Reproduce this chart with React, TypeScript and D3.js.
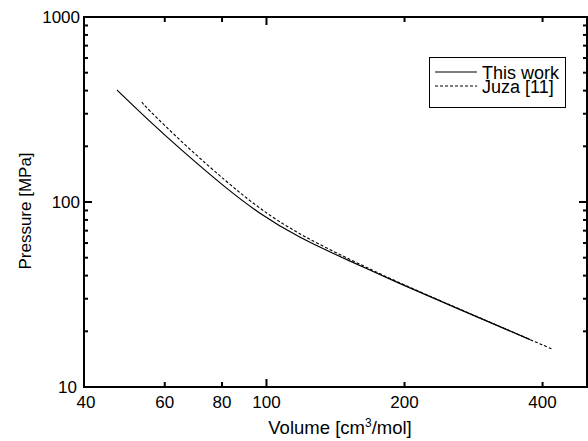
import React from "react";
import * as d3 from "d3";

const thisWorkV = [47.2, 55.7, 66.4, 81.2, 96.8, 118.4, 152.2, 195.6, 264.4, 375.8];
const thisWorkP = [403, 272.8, 184.2, 120.7, 87.0, 64.5, 47.9, 36.2, 26.2, 18.04];
const juzaV = [53.5, 55.7, 66.4, 81.2, 96.8, 118.4, 152.2, 195.6, 264.4, 375.8, 421.8];
const juzaP = [347, 310.7, 204.3, 131.3, 92.6, 67.2, 48.9, 36.5, 26.3, 18.04, 15.95];
const xTickValues = [40, 60, 80, 100, 200, 400];
const yLabelValues = [10, 100, 1000];
const legendLabels = ["This work", "Juza [11]"];

const W = 588, H = 441;
const M = { left: 84, right: 1, top: 17, bottom: 54 };
const FONT = "'Liberation Sans', Arial, Helvetica, sans-serif";

export default function App() {
  const x = d3.scaleLog().domain([40, 500]).range([M.left, W - M.right]);
  const y = d3.scaleLog().domain([10, 1000]).range([H - M.bottom, M.top]);
  const x0 = x.range()[0], x1 = x.range()[1];
  const y0 = y.range()[0], y1 = y.range()[1];
  const line = d3
    .line<[number, number]>()
    .x((d) => x(d[0]))
    .y((d) => y(d[1]))
    .curve(d3.curveNatural);
  const solid = line(thisWorkV.map((v, i) => [v, thisWorkP[i]]));
  const dashed = line(juzaV.map((v, i) => [v, juzaP[i]]));
  const yTicks = y.ticks();
  const isMajorY = (v: number) => yLabelValues.includes(v);
  const isMajorX = (v: number) => v === 100;

  const lg = { x: 429.5, y: 57.5, w: 136, h: 50 };

  return (
    <svg
      width={W}
      height={H}
      style={{ position: "absolute", left: 0, top: 0, background: "#fff" }}
      fontFamily={FONT}
    >
      <rect x={0} y={0} width={W} height={H} fill="#fff" />
      {/* curves */}
      <path d={solid || ""} fill="none" stroke="#000" strokeWidth={1.2} />
      <path d={dashed || ""} fill="none" stroke="#000" strokeWidth={1.1} strokeDasharray="3,2" />

      {/* frame */}
      <rect x={x0} y={y1} width={x1 - x0} height={y0 - y1} fill="none" stroke="#000" strokeWidth={2} />

      {/* y ticks */}
      {yTicks.map((v) => {
        const len = isMajorY(v) ? 8 : 4;
        const yy = y(v);
        return (
          <g key={"yt" + v}>
            <line x1={x0} x2={x0 + len} y1={yy} y2={yy} stroke="#000" strokeWidth={2} />
            <line x1={x1} x2={x1 - len} y1={yy} y2={yy} stroke="#000" strokeWidth={2} />
          </g>
        );
      })}
      {yLabelValues.map((v) => (
        <text
          key={"yl" + v}
          x={x0 - 4 - (v === 10 ? 3 : 0)}
          y={y(v)}
          dy="0.35em"
          textAnchor="end"
          fontSize={17}
          fill="#000"
        >
          {v}
        </text>
      ))}

      {/* x ticks */}
      {xTickValues.map((v) => {
        const len = isMajorX(v) ? 8 : 5;
        const xx = x(v);
        return (
          <g key={"xt" + v}>
            <line x1={xx} x2={xx} y1={y0} y2={y0 - len} stroke="#000" strokeWidth={2} />
            <line x1={xx} x2={xx} y1={y1} y2={y1 + len} stroke="#000" strokeWidth={2} />
            <text x={xx + (v === 40 ? 2 : 0)} y={y0 + 21} textAnchor="middle" fontSize={17} fill="#000">
              {v}
            </text>
          </g>
        );
      })}

      {/* axis titles */}
      <text x={340} y={434} textAnchor="middle" fontSize={18.5} fill="#000">
        Volume [cm<tspan dy={-7} fontSize={12}>3</tspan>
        <tspan dy={7}>/mol]</tspan>
      </text>
      <text
        transform={`translate(31,211) rotate(-90)`}
        textAnchor="middle"
        fontSize={17}
        fill="#000"
      >
        Pressure [MPa]
      </text>

      {/* legend */}
      <rect x={lg.x} y={lg.y} width={lg.w} height={lg.h} fill="#fff" stroke="#000" strokeWidth={1} />
      <line x1={435} x2={477} y1={72} y2={72} stroke="#000" strokeWidth={1.2} />
      <line x1={435} x2={477} y1={86} y2={86} stroke="#000" strokeWidth={1.1} strokeDasharray="3,2" />
      <text x={482} y={78.5} fontSize={18} fill="#000">{legendLabels[0]}</text>
      <text x={482} y={92.5} fontSize={18} fill="#000">{legendLabels[1]}</text>
    </svg>
  );
}
